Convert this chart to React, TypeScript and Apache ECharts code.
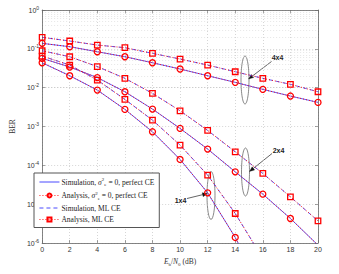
import React, { useEffect, useRef } from "react";
import * as echarts from "echarts";

const snr = [0, 2, 4, 6, 8, 10, 12, 14, 16, 18, 20];
const ber4x4Ml = [0.198, 0.159, 0.125, 0.107, 0.0766, 0.0546, 0.0382, 0.0257, 0.0174, 0.0122, 0.00784];
const ber4x4Perf = [0.1386, 0.1133, 0.0842, 0.0626, 0.0438, 0.0302, 0.0203, 0.0137, 0.00904, 0.00608, 0.00418];
const ber2x4Ml = [0.0893, 0.0626, 0.035, 0.0174, 0.00713, 0.00254, 0.000793, 0.000223, 6.18e-5, 1.54e-5, 3.71e-6];
const ber2x4Perf = [0.0569, 0.034, 0.0182, 0.00784, 0.00281, 0.000893, 0.000262, 6.8e-5, 1.81e-5, 4.28e-6, 8.78e-7];
const ber1x4Ml = [0.0652, 0.0382, 0.0157, 0.00499, 0.00146, 0.000332, 5.59e-5, 5.75e-6, 4.0e-7];
const ber1x4Perf = [0.0438, 0.0203, 0.00867, 0.00276, 0.00073, 0.000142, 1.96e-5, 1.39e-6, 6.0e-8];

const legendNames = ["simPerf", "anaPerf", "simMl", "anaMl"];
const legendLabels: Record<string, string> = {
  simPerf: "Simulation, {it|σ}{sup|2}{sub|e}{t| = 0, perfect CE}",
  anaPerf: "Analysis, {it|σ}{sup|2}{sub|e}{t| = 0, perfect CE}",
  simMl: "Simulation, ML CE",
  anaMl: "Analysis, ML CE",
};
const xTicks = [0, 2, 4, 6, 8, 10, 12, 14, 16, 18, 20];

const SERIF = "'Liberation Serif', 'DejaVu Serif', serif";
const SANS = "'Liberation Sans', Arial, sans-serif";
const BLUE = "#3535ff";

function pairs(vals: number[]) {
  return vals.map((v, i) => [snr[i], v]);
}

function arrow(x1: number, y1: number, x2: number, y2: number) {
  const ang = Math.atan2(y2 - y1, x2 - x1);
  const L = 5, W = 2;
  const bx = x2 - L * Math.cos(ang), by = y2 - L * Math.sin(ang);
  const px = -Math.sin(ang) * W, py = Math.cos(ang) * W;
  return [
    { type: "line", shape: { x1, y1, x2: bx, y2: by }, style: { stroke: "#222", lineWidth: 0.7 }, silent: true },
    {
      type: "polygon",
      shape: { points: [[x2, y2], [bx + px, by + py], [bx - px, by - py]] },
      style: { fill: "#111", stroke: "#111", lineWidth: 0.3 },
      silent: true,
    },
  ];
}

export default function App() {
  const ref = useRef<HTMLDivElement>(null);
  useEffect(() => {
    if (!ref.current) return;
    const chart = echarts.init(ref.current, undefined, { renderer: "svg" });

    const minor: any[] = [];
    for (let n = -6; n < 0; n++) for (let k = 2; k <= 9; k++) minor.push({ yAxis: k * Math.pow(10, n) });

    const sim = (name: string, vals: number[], dashed: boolean, extra: any = {}) => ({
      name,
      type: "line",
      data: pairs(vals),
      showSymbol: false,
      symbol: "none",
      color: BLUE,
      lineStyle: { color: BLUE, width: 0.8, type: dashed ? [4, 3] : "solid" },
      z: 2,
      silent: true,
      ...extra,
    });
    const ana = (name: string, vals: number[], sym: string) => ({
      name,
      type: "line",
      data: pairs(vals),
      symbol: sym,
      symbolSize: sym === "rect" ? 5.5 : 6,
      color: "#ff0000",
      itemStyle: { color: "rgba(255,255,255,0)", borderColor: "#ff0000", borderWidth: 1.3 },
      lineStyle: { color: "#ff0000", width: 0.9, type: [1, 2] },
      z: 3,
      silent: true,
    });

    const supRich = {
      b: { fontSize: 7, fontFamily: SANS, color: "#333", lineHeight: 10 },
      s: { fontSize: 5, fontFamily: SANS, color: "#333", lineHeight: 5, verticalAlign: "top" },
    };

    const hidden = { color: "rgba(0,0,0,0)", borderColor: "rgba(0,0,0,0)", borderWidth: 0 };

    chart.setOption({
      animation: false,
      backgroundColor: "#fff",
      grid: { left: 30, right: 21, top: 10, bottom: 31, containLabel: false },
      xAxis: [
        {
          type: "value",
          min: 0,
          max: 20,
          interval: 2,
          name: "{it|E}{sub|b}{t|/}{it|N}{sub|0}{t| (dB)}",
          nameLocation: "middle",
          nameGap: 9,
          nameTextStyle: {
            fontFamily: SERIF,
            fontSize: 7.5,
            color: "#333",
            rich: {
              it: { fontFamily: SERIF, fontStyle: "italic", fontSize: 7.5, color: "#333", lineHeight: 10 },
              sub: { fontFamily: SERIF, fontSize: 5, color: "#333", lineHeight: 5, verticalAlign: "bottom" },
              t: { fontFamily: SERIF, fontSize: 7.5, color: "#333", lineHeight: 10 },
            },
          },
          axisLine: { show: true, onZero: false, lineStyle: { color: "#666", width: 0.8 } },
          axisTick: { show: true, inside: true, length: 3, lineStyle: { color: "#666", width: 0.6 } },
          axisLabel: {
            fontSize: 7,
            fontFamily: SANS,
            color: "#333",
            margin: 3,
            formatter: (v: number) => (xTicks.includes(v) ? String(v) : ""),
          },
          splitLine: { show: true, lineStyle: { color: "#bbb", type: [1, 2], width: 0.6 } },
        },
        {
          type: "value",
          position: "top",
          min: 0,
          max: 20,
          interval: 2,
          axisLine: { show: true, onZero: false, lineStyle: { color: "#666", width: 0.8 } },
          axisTick: { show: true, inside: true, length: 3, lineStyle: { color: "#666", width: 0.6 } },
          axisLabel: { show: false },
          splitLine: { show: false },
        },
      ],
      yAxis: [
        {
          type: "log",
          logBase: 10,
          min: 1e-6,
          max: 1,
          name: "BER",
          nameLocation: "middle",
          nameGap: 19,
          nameRotate: 90,
          nameTextStyle: { fontFamily: SERIF, fontSize: 7.5, color: "#333" },
          axisLine: { show: true, onZero: false, lineStyle: { color: "#666", width: 0.8 } },
          axisTick: { show: true, inside: true, length: 3, lineStyle: { color: "#666", width: 0.6 } },
          axisLabel: {
            margin: 3,
            formatter: (v: number) => {
              const e = Math.round(Math.log10(v));
              return "{b|10}{s|" + (e === 0 ? "0" : "-" + Math.abs(e)) + "}";
            },
            rich: supRich,
          },
          splitLine: { show: true, lineStyle: { color: "#bbb", type: [1, 2], width: 0.6 } },
        },
        {
          type: "log",
          logBase: 10,
          min: 1e-6,
          max: 1,
          position: "right",
          axisLine: { show: true, onZero: false, lineStyle: { color: "#666", width: 0.8 } },
          axisTick: { show: true, inside: true, length: 3, lineStyle: { color: "#666", width: 0.6 } },
          axisLabel: { show: false },
          splitLine: { show: false },
        },
      ],
      legend: {
        data: [
          { name: legendNames[0], itemStyle: hidden },
          { name: legendNames[1] },
          { name: legendNames[2], itemStyle: hidden },
          { name: legendNames[3] },
        ],
        orient: "vertical",
        left: 34,
        top: 173,
        padding: [4, 5, 4, 5],
        itemGap: 3.5,
        itemWidth: 20,
        itemHeight: 5,
        backgroundColor: "#fff",
        borderColor: "#555",
        borderWidth: 1,
        selectedMode: false,
        lineStyle: { width: 0.9 },
        formatter: (name: string) => legendLabels[name],
        textStyle: {
          fontFamily: SERIF,
          fontSize: 7.5,
          color: "#222",
          padding: [0, 0, 0, -3],
          rich: {
            it: { fontFamily: SERIF, fontStyle: "italic", fontSize: 7.5, color: "#222", lineHeight: 10 },
            sup: { fontFamily: SERIF, fontSize: 5, color: "#222", lineHeight: 5, verticalAlign: "top" },
            sub: { fontFamily: SERIF, fontSize: 5, color: "#222", lineHeight: 5, verticalAlign: "bottom" },
            t: { fontFamily: SERIF, fontSize: 7.5, color: "#222", lineHeight: 10 },
          },
        },
      },
      series: [
        sim("simPerf", ber4x4Perf, false, {
          markLine: {
            silent: true,
            symbol: "none",
            label: { show: false },
            lineStyle: { color: "#ccc", type: [1, 2], width: 0.5 },
            data: minor,
            z: 0,
          },
        }),
        sim("simPerf", ber2x4Perf, false),
        sim("simPerf", ber1x4Perf, false),
        sim("simMl", ber4x4Ml, true),
        sim("simMl", ber2x4Ml, true),
        sim("simMl", ber1x4Ml, true),
        ana("anaPerf", ber4x4Perf, "circle"),
        ana("anaPerf", ber2x4Perf, "circle"),
        ana("anaPerf", ber1x4Perf, "circle"),
        ana("anaMl", ber4x4Ml, "rect"),
        ana("anaMl", ber2x4Ml, "rect"),
        ana("anaMl", ber1x4Ml, "rect"),
      ],
      graphic: [
        { type: "ellipse", shape: { cx: 245, cy: 80, rx: 4, ry: 24 }, style: { fill: "none", stroke: "#555", lineWidth: 0.7 }, silent: true },
        { type: "ellipse", shape: { cx: 245.5, cy: 172, rx: 4, ry: 24 }, style: { fill: "none", stroke: "#555", lineWidth: 0.7 }, silent: true },
        { type: "ellipse", shape: { cx: 211, cy: 195.5, rx: 4, ry: 24 }, style: { fill: "none", stroke: "#555", lineWidth: 0.7 }, silent: true },
        ...arrow(271.5, 61.5, 248.5, 79),
        ...arrow(272, 153.5, 249.5, 171.5),
        ...arrow(187, 198.5, 207.5, 193.5),
        { type: "text", x: 277.5, y: 57.5, style: { text: "4x4", fontSize: 7, fontWeight: "bold", fontFamily: SANS, fill: "#222", align: "center", verticalAlign: "middle" }, silent: true },
        { type: "text", x: 278.5, y: 150, style: { text: "2x4", fontSize: 7, fontWeight: "bold", fontFamily: SANS, fill: "#222", align: "center", verticalAlign: "middle" }, silent: true },
        { type: "text", x: 180.5, y: 200, style: { text: "1x4", fontSize: 7, fontWeight: "bold", fontFamily: SANS, fill: "#222", align: "center", verticalAlign: "middle" }, silent: true },
      ],
    });
    return () => chart.dispose();
  }, []);
  return <div ref={ref} style={{ position: "absolute", left: 0, top: 0, width: 339, height: 274 }} />;
}
